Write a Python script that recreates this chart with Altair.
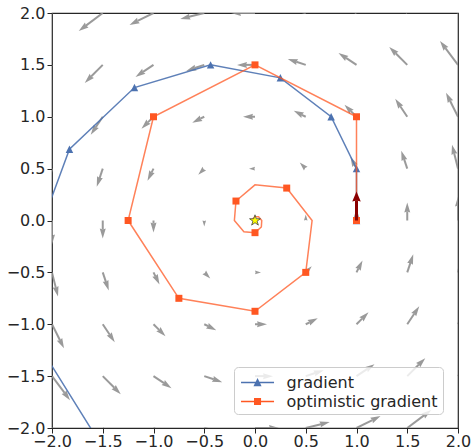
import math
import altair as alt
import pandas as pd

# ---------------- data ----------------
ticks = [-2.0, -1.5, -1.0, -0.5, 0.0, 0.5, 1.0, 1.5, 2.0]
grid_x = [-2.0, -1.5, -1.0, -0.5, 0.0, 0.5, 1.0, 1.5, 2.0]
grid_y = [-2.0, -1.5, -1.0, -0.5, 0.0, 0.5, 1.0, 1.5, 2.0]

# vector field (u, v) at each grid point: row j -> grid_y[j], column i -> grid_x[i]
field_u = [
    [2.0, 2.0, 2.0, 2.0, 2.0, 2.0, 2.0, 2.0, 2.0],
    [1.5, 1.5, 1.5, 1.5, 1.5, 1.5, 1.5, 1.5, 1.5],
    [1.0, 1.0, 1.0, 1.0, 1.0, 1.0, 1.0, 1.0, 1.0],
    [0.5, 0.5, 0.5, 0.5, 0.5, 0.5, 0.5, 0.5, 0.5],
    [0.0, 0.0, 0.0, 0.0, 0.0, 0.0, 0.0, 0.0, 0.0],
    [-0.5, -0.5, -0.5, -0.5, -0.5, -0.5, -0.5, -0.5, -0.5],
    [-1.0, -1.0, -1.0, -1.0, -1.0, -1.0, -1.0, -1.0, -1.0],
    [-1.5, -1.5, -1.5, -1.5, -1.5, -1.5, -1.5, -1.5, -1.5],
    [-2.0, -2.0, -2.0, -2.0, -2.0, -2.0, -2.0, -2.0, -2.0],
]
field_v = [
    [-2.0, -1.5, -1.0, -0.5, 0.0, 0.5, 1.0, 1.5, 2.0],
    [-2.0, -1.5, -1.0, -0.5, 0.0, 0.5, 1.0, 1.5, 2.0],
    [-2.0, -1.5, -1.0, -0.5, 0.0, 0.5, 1.0, 1.5, 2.0],
    [-2.0, -1.5, -1.0, -0.5, 0.0, 0.5, 1.0, 1.5, 2.0],
    [-2.0, -1.5, -1.0, -0.5, 0.0, 0.5, 1.0, 1.5, 2.0],
    [-2.0, -1.5, -1.0, -0.5, 0.0, 0.5, 1.0, 1.5, 2.0],
    [-2.0, -1.5, -1.0, -0.5, 0.0, 0.5, 1.0, 1.5, 2.0],
    [-2.0, -1.5, -1.0, -0.5, 0.0, 0.5, 1.0, 1.5, 2.0],
    [-2.0, -1.5, -1.0, -0.5, 0.0, 0.5, 1.0, 1.5, 2.0],
]

grad_x = [1.0, 1.0, 0.75, 0.25, -0.4375, -1.1875, -1.8281, -2.1719, -2.0586, -1.4023]
grad_y = [0.0, 0.5, 1.0, 1.375, 1.5, 1.2813, 0.6875, -0.2266, -1.3125, -2.3418]

opt_x = [1.0, 1.0, 0.0, -1.0, -1.25, -0.75, 0.0, 0.5, 0.5625, 0.3125, 0.0,
         -0.1875, -0.2031, -0.1094, 0.0, 0.0625, 0.0664, 0.0352, 0.0, -0.0195, -0.0205]
opt_y = [0.0, 1.0, 1.5, 1.0, 0.0, -0.75, -0.875, -0.5, 0.0, 0.3125, 0.3438,
         0.1875, 0.0, -0.1094, -0.1172, -0.0625, 0.0, 0.0352, 0.0371, 0.0195, 0.0]
opt_marked = [0, 1, 2, 3, 4, 5, 6, 7, 9, 11, 14]

start_arrow = {"x": 1.0, "y": 0.0, "u": 0.0, "v": 1.0}
equilibrium = {"x": 0.0, "y": 0.0}

series_names = ["gradient", "optimistic gradient"]

# ---------------- styling ----------------
W, H = 406, 415
KX, KY = W / 4.0, H / 4.0
GRAY = "#8f8f8f"
BLUE = "#4c72b0"
ORANGE = "#ff5722"
DARKRED = "#8b0000"
TXT = "#262626"
FONT = "DejaVu Sans"
ARROW_PX = 12.0          # quiver pixels per field unit
HEAD_LEN, HEAD_AX = 10.0, 9.0
HEAD_PATH = "M0,-1L0.6,1L0,0.8L-0.6,1Z"
RED_HEAD_PATH = "M0,-1L0.85,1L0,0.8L-0.85,1Z"
RED_PX = 29.0

xs = alt.Scale(domain=[-2, 2], nice=False, zero=False)
ys = alt.Scale(domain=[-2, 2], nice=False, zero=False)
xaxis = alt.Axis(values=ticks, format=".1f", grid=False, domain=False,
                 labelFontSize=16, labelFont=FONT, labelColor=TXT,
                 tickColor=TXT, tickSize=5, tickWidth=1, labelPadding=0,
                 labelFlush=False, labelOverlap=False)
yaxis = alt.Axis(values=ticks, format=".1f", grid=False, domain=False,
                 labelFontSize=16, labelFont=FONT, labelColor=TXT,
                 tickColor=TXT, tickSize=5, tickWidth=1, labelPadding=2,
                 labelFlush=False, labelOverlap=False)


def X(f):
    return alt.X(f, type="quantitative", scale=xs, axis=xaxis, title=None)


def Y(f):
    return alt.Y(f, type="quantitative", scale=ys, axis=yaxis, title=None)


def arrow_geometry(x0, y0, u, v, px_per_unit):
    mag = math.hypot(u, v)
    L = px_per_unit * mag
    ex, ey = u / mag, v / mag
    ang = math.degrees(math.atan2(ex, ey)) % 360.0
    if L >= HEAD_LEN:
        f = 1.0
        shaft_end = L - HEAD_AX
        centre = L - HEAD_LEN / 2.0
    else:
        f = L / HEAD_LEN
        shaft_end = 0.0
        centre = HEAD_LEN * f / 2.0
    return {
        "x": x0, "y": y0,
        "xs": x0 + ex * shaft_end / KX, "ys": y0 + ey * shaft_end / KY,
        "hx": x0 + ex * centre / KX, "hy": y0 + ey * centre / KY,
        "size": 100.0 * f * f, "angle": ang, "has_shaft": shaft_end > 0,
    }


rows = []
for j, yv in enumerate(grid_y):
    for i, xv in enumerate(grid_x):
        u, v = field_u[j][i], field_v[j][i]
        if math.hypot(u, v) == 0:
            continue
        rows.append(arrow_geometry(xv, yv, u, v, ARROW_PX))
quiver = pd.DataFrame(rows)

shafts = alt.Chart(quiver[quiver.has_shaft]).mark_rule(
    color=GRAY, strokeWidth=2, opacity=0.9, clip=True
).encode(x=X("x"), y=Y("y"), x2="xs", y2="ys")

heads = alt.Chart(quiver).mark_point(
    shape=HEAD_PATH, filled=True, color=GRAY, opacity=0.9, strokeWidth=0, clip=True
).encode(x=X("hx"), y=Y("hy"),
         size=alt.Size("size:Q", scale=None, legend=None),
         angle=alt.Angle("angle:Q", scale=None))

gdf = pd.DataFrame({"x": grad_x, "y": grad_y, "i": range(len(grad_x))})
odf = pd.DataFrame({"x": opt_x, "y": opt_y, "i": range(len(opt_x))})
omk = odf[odf.i.isin(opt_marked)]

g_line = alt.Chart(gdf).mark_line(color=BLUE, strokeWidth=1.5, opacity=0.9, clip=True).encode(
    x=X("x"), y=Y("y"), order="i:Q")
g_pts = alt.Chart(gdf).mark_point(shape="M0,-1L1,1L-1,1Z", filled=True, color=BLUE,
                                  opacity=1, size=56, strokeWidth=0, clip=True).encode(
    x=X("x"), y=Y("y"))

o_line = alt.Chart(odf).mark_line(color=ORANGE, strokeWidth=1.5, opacity=0.75, clip=True).encode(
    x=X("x"), y=Y("y"), order="i:Q")
o_pts = alt.Chart(omk).mark_point(shape="square", filled=True, color=ORANGE,
                                  opacity=1, size=49, strokeWidth=0, clip=True).encode(
    x=X("x"), y=Y("y"))

# dark red starting arrow
ra = arrow_geometry(start_arrow["x"], start_arrow["y"], start_arrow["u"], start_arrow["v"], RED_PX)
rdf = pd.DataFrame([ra])
r_shaft = alt.Chart(rdf).mark_rule(color=DARKRED, strokeWidth=3, clip=True).encode(
    x=X("x"), y=Y("y"), x2="xs", y2="ys")
r_head = alt.Chart(rdf).mark_point(shape=RED_HEAD_PATH, filled=True, color=DARKRED,
                                   opacity=1, strokeWidth=0, size=100, clip=True).encode(
    x=X("hx"), y=Y("hy"), angle=alt.Angle("angle:Q", scale=None))

# star
pts = []
for k in range(10):
    a = math.radians(-90 + 36 * k)
    r = 1.0 if k % 2 == 0 else 0.382
    pts.append(f"{r * math.cos(a):.3f},{r * math.sin(a):.3f}")
STAR = "M" + "L".join(pts) + "Z"
sdf = pd.DataFrame([equilibrium])
star = alt.Chart(sdf).mark_point(shape=STAR, filled=True, fill="#ffff00", stroke="#444444",
                                 strokeWidth=0.8, opacity=1, size=130).encode(
    x=X("x"), y=Y("y"))

# legend layer (invisible marks, visible legend)
LEG_G = "M-0.77,-0.07H2.23V0.07H-0.77Z M0.73,-0.4L1.1,0.33L0.36,0.33Z"
LEG_O = "M-0.77,-0.07H2.23V0.07H-0.77Z M0.41,-0.32H1.05V0.32H0.41Z"
legend_cfg = alt.Legend(
    title=None, orient="none", legendX=182, legendY=354, padding=4.5,
    fillColor="rgba(255,255,255,0.8)", strokeColor="#cccccc", cornerRadius=4,
    labelFontSize=16, labelFont=FONT, labelColor=TXT, labelLimit=400,
    symbolSize=484, symbolOpacity=1, symbolStrokeWidth=0, labelOffset=26,
    rowPadding=0,
)
ldf = pd.DataFrame({"series": series_names})
leg = alt.Chart(ldf).mark_point(filled=True, opacity=0, size=1).encode(
    color=alt.Color("series:N", scale=alt.Scale(domain=series_names, range=[BLUE, ORANGE]),
                    legend=legend_cfg),
    shape=alt.Shape("series:N", scale=alt.Scale(domain=series_names, range=[LEG_G, LEG_O]),
                    legend=legend_cfg),
)

chart = alt.layer(shafts, heads, g_line, g_pts, o_line, o_pts, r_shaft, r_head, star, leg).properties(
    width=W, height=H,
    autosize=alt.AutoSizeParams(type="none"),
    padding={"left": 52, "top": 13, "right": 13, "bottom": 19},
    background="white",
).configure_view(stroke=TXT, strokeWidth=1.2)

chart.save("out.html", embed_options={"renderer": "svg", "actions": False})
